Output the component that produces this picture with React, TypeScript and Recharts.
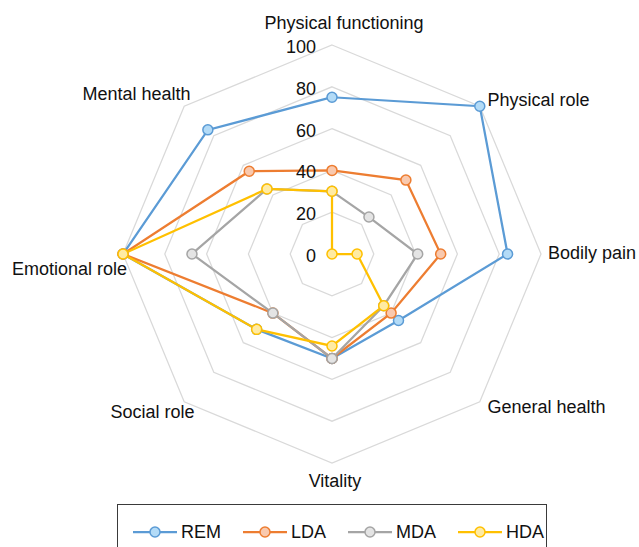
import React from "react";
import { RadarChart, Radar, PolarGrid, PolarAngleAxis, PolarRadiusAxis } from "recharts";

const categories = [
    "Physical functioning",
    "Physical role",
    "Bodily pain",
    "General health",
    "Vitality",
    "Social role",
    "Emotional role",
    "Mental health",
];

const rem = [75, 100, 84, 45, 50, 51, 100, 84];
const lda = [40, 50, 52, 40, 50, 40, 100, 56];
const mda = [30, 25, 41, 35, 50, 40, 67, 44];
const hda = [30, 0, 12, 35, 44, 51, 100, 44];

const seriesNames = ["REM", "LDA", "MDA", "HDA"];

const SERIES = [
    { key: "REM", stroke: "#5b9bd5", dot: "#b3dbf7" },
    { key: "LDA", stroke: "#ed7d31", dot: "#f9c9ae" },
    { key: "MDA", stroke: "#a5a5a5", dot: "#e4e4e4" },
    { key: "HDA", stroke: "#ffc000", dot: "#ffeba3" },
];

const FONT = "'Liberation Sans', Arial, Helvetica, sans-serif";

const data = categories.map((subject, i) => ({
    subject,
    REM: rem[i],
    LDA: lda[i],
    MDA: mda[i],
    HDA: hda[i],
}));

// label nudges per axis, relative to the point recharts hands the tick
const LABEL_POS = [
    { anchor: "middle", dx: 12, dy: -8 },
    { anchor: "start", dx: 2, dy: 5 },
    { anchor: "start", dx: -1, dy: 5 },
    { anchor: "start", dx: 2, dy: 6 },
    { anchor: "middle", dx: 3, dy: 16 },
    { anchor: "end", dx: 16, dy: 11 },
    { anchor: "end", dx: 12, dy: 21 },
    { anchor: "end", dx: 12, dy: -1 },
];

const AngleTick = ({ x, y, payload, index }: any) => {
    const p = LABEL_POS[index] ?? { anchor: "middle", dx: 0, dy: 0 };
    return (
        <text x={x + p.dx} y={y + p.dy} textAnchor={p.anchor} fontSize={18} fill="#111" fontFamily={FONT}>
            {payload.value}
        </text>
    );
};

const RadiusTick = ({ x, y, payload }: any) => (
    <text x={x - 16} y={y + 8} textAnchor="end" fontSize={18} fill="#111" fontFamily={FONT}>
        {payload.value}
    </text>
);

const LegendIcon = ({ stroke, dot }: { stroke: string; dot: string }) => (
    <svg width={44} height={14} style={{ display: "block" }}>
        <line x1={0} y1={7} x2={44} y2={7} stroke={stroke} strokeWidth={2.25} />
        <circle cx={22} cy={7} r={5} fill={dot} stroke={stroke} strokeWidth={1.5} />
    </svg>
);

export default function App() {
    return (
        <div style={{ position: "absolute", left: 0, top: 0, width: 639, height: 547, background: "#fff", fontFamily: FONT, overflow: "hidden" }}>
            <RadarChart
                width={639}
                height={547}
                data={data}
                cx={332}
                cy={254}
                outerRadius={209}
                margin={{ top: 0, right: 0, bottom: 0, left: 0 }}
            >
                <PolarGrid gridType="polygon" radialLines={false} stroke="#d9d9d9" strokeWidth={1.25} />
                <PolarAngleAxis dataKey="subject" tickLine={false} axisLine={false} tick={<AngleTick />} />
                <PolarRadiusAxis angle={90} domain={[0, 100]} tickCount={6} axisLine={false} tickLine={false} tick={<RadiusTick />} />
                {SERIES.map(s => (
                    <Radar
                        key={s.key}
                        name={s.key}
                        dataKey={s.key}
                        stroke={s.stroke}
                        strokeWidth={2.25}
                        fill="none"
                        fillOpacity={0}
                        dot={{ r: 5, fill: s.dot, stroke: s.stroke, strokeWidth: 1.5, fillOpacity: 1 }}
                        isAnimationActive={false}
                    />
                ))}
            </RadarChart>
            <div
                style={{
                    position: "absolute",
                    left: 117,
                    top: 504,
                    width: 430,
                    height: 60,
                    border: "1px solid #3a3a3a",
                    boxSizing: "border-box",
                    display: "flex",
                    alignItems: "flex-start",
                    paddingLeft: 15,
                    paddingTop: 18,
                }}
            >
                {seriesNames.map((name, i) => (
                    <div key={name} style={{ display: "flex", alignItems: "center", marginRight: 22 }}>
                        <LegendIcon stroke={SERIES[i].stroke} dot={SERIES[i].dot} />
                        <span style={{ fontSize: 18, marginLeft: 4, color: "#111", lineHeight: "18px" }}>{name}</span>
                    </div>
                ))}
            </div>
        </div>
    );
}
